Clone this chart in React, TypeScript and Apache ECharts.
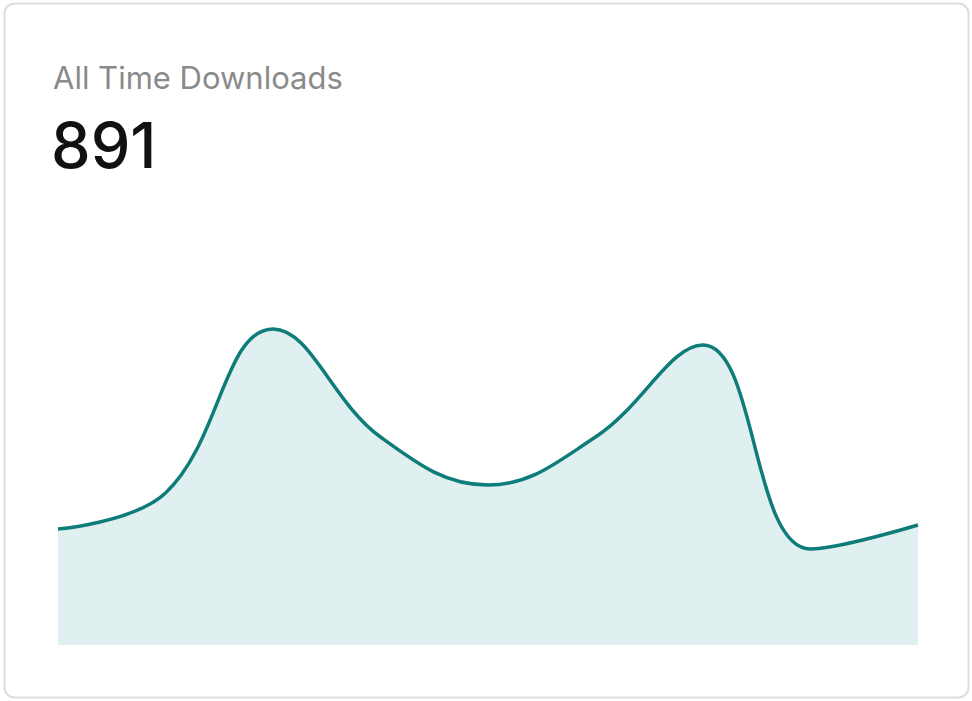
import React, { useEffect, useRef } from "react";
import * as echarts from "echarts";

const categories = ["1", "2", "3", "4", "5", "6", "7", "8", "9"];
const downloads = [29, 38, 79, 52, 40, 52, 75, 24, 30];
const titleText = "All Time Downloads";
const totalText = "891";

export default function App() {
  const ref = useRef<HTMLDivElement>(null);
  useEffect(() => {
    if (!ref.current) return;
    const chart = echarts.init(ref.current, null, { renderer: "svg" });
    chart.setOption({
      animation: false,
      backgroundColor: "#ffffff",
      graphic: [
        {
          type: "rect",
          z: -10,
          silent: true,
          shape: { x: 4.5, y: 3.5, width: 964, height: 694, r: 10 },
          style: { fill: "#ffffff", stroke: "#dddddd", lineWidth: 2 },
        },
      ],
      title: [
        {
          text: titleText,
          left: 53,
          top: 62,
          padding: 0,
          textStyle: {
            fontFamily: "Inter",
            fontSize: 31,
            fontWeight: 400,
            color: "#8a8a8a",
          },
        },
        {
          text: totalText,
          left: 51,
          top: 113,
          padding: 0,
          textStyle: {
            fontFamily: "Inter",
            fontSize: 63,
            fontWeight: 500,
            color: "#111111",
          },
        },
      ],
      grid: { left: 58, right: 54, top: 245, bottom: 56 },
      xAxis: {
        type: "category",
        data: categories,
        boundaryGap: false,
        show: false,
      },
      yAxis: { type: "value", min: 0, max: 100, show: false },
      series: [
        {
          type: "line",
          data: downloads,
          smooth: 0.4,
          symbol: "none",
          lineStyle: { color: "#0e7c78", width: 3.5 },
          areaStyle: { color: "#e0f0f0", opacity: 1 },
        },
      ],
    });
    return () => chart.dispose();
  }, []);
  return (
    <div
      ref={ref}
      style={{ position: "fixed", left: 0, top: 0, width: 972, height: 701 }}
    />
  );
}
